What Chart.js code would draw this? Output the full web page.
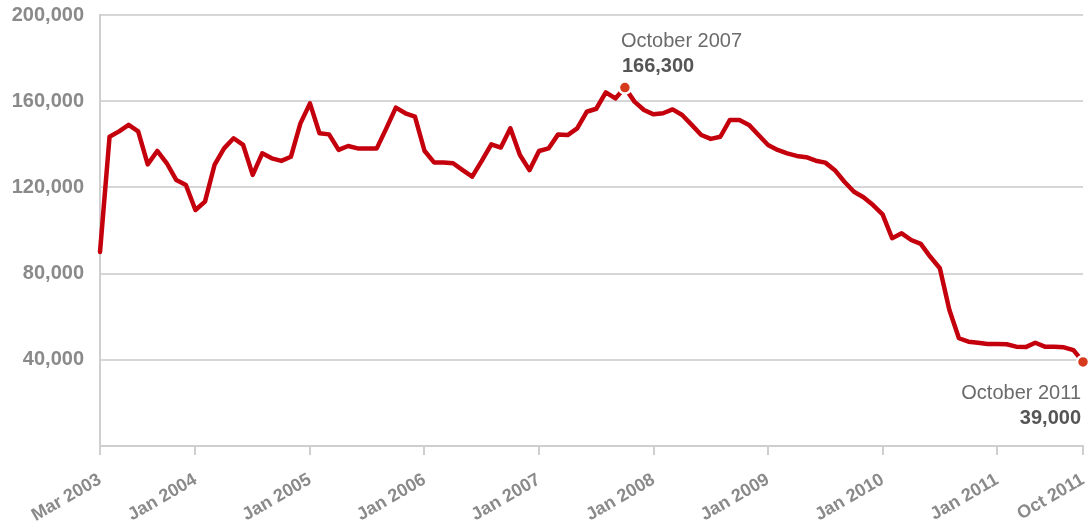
<!DOCTYPE html>
<html>
<head>
<meta charset="utf-8">
<script src="https://cdn.jsdelivr.net/npm/chart.js@4/dist/chart.umd.min.js"></script>
<style>
  body { margin: 0; background: #fff; }
  #wrap { width: 1092px; height: 529px; position: relative; }
</style>
</head>
<body>
<div id="wrap"><canvas id="jobsChart"></canvas></div>
<script>
// monthly values, Mar 2003 .. Oct 2011 (index 0 = Mar 2003)
const values = [
  90000, 143500, 146000, 149000, 146000, 130700, 136900, 131200, 123400, 121100,
  109500, 113400, 130400, 138100, 142800, 139700, 125800, 135800, 133500, 132300,
  134200, 149700, 159000, 145100, 144600, 137400, 139200, 138100, 138100, 138100,
  147400, 157000, 154400, 152800, 137000, 131600, 131600, 131200, 128000, 125000,
  132300, 140000, 138500, 147400, 135000, 128000, 136900, 138100, 144600, 144300,
  147400, 155100, 156500, 164100, 161300, 166300, 159800, 155900, 153900, 154400,
  156200, 153600, 149000, 144300, 142500, 143500, 151300, 151300, 149000, 144300,
  139700, 137400, 135800, 134600, 134000, 132400, 131500, 128000, 122600, 118000,
  115400, 111800, 107500, 96400, 98700, 95600, 93800, 87800, 82500, 63100,
  50000, 48400, 47900, 47300, 47300, 47200, 46100, 45900, 47900, 46100,
  46100, 45800, 44500, 39000
];

// x tick positions (month index) and their labels
const tickIndex = [0, 10, 22, 34, 46, 58, 70, 82, 94, 103];
const tickLabels = ['Mar 2003', 'Jan 2004', 'Jan 2005', 'Jan 2006', 'Jan 2007',
  'Jan 2008', 'Jan 2009', 'Jan 2010', 'Jan 2011', 'Oct 2011'];

// highlighted points
const highlightIndex = [55, 103];
const highlightMonth = ['October 2007', 'October 2011'];

const points = values.map((v, i) => ({ x: i, y: v }));

const calloutPlugin = {
  id: 'callouts',
  afterDatasetsDraw(chart) {
    const ctx = chart.ctx;
    const xs = chart.scales.x, ys = chart.scales.y;
    ctx.save();
    highlightIndex.forEach((idx, k) => {
      const px = xs.getPixelForValue(idx);
      const py = ys.getPixelForValue(values[idx]);
      const val = values[idx].toLocaleString('en-US');
      if (k === 0) {
        ctx.textAlign = 'left';
        ctx.fillStyle = '#6b6b6b';
        ctx.font = '20px "Liberation Sans", Arial, sans-serif';
        ctx.fillText(highlightMonth[k], px - 4, py - 41);
        ctx.fillStyle = '#555';
        ctx.font = 'bold 20px "Liberation Sans", Arial, sans-serif';
        ctx.fillText(val, px - 3, py - 16);
      } else {
        ctx.textAlign = 'right';
        ctx.fillStyle = '#6b6b6b';
        ctx.font = '20px "Liberation Sans", Arial, sans-serif';
        ctx.fillText(highlightMonth[k], px - 2, py + 37);
        ctx.fillStyle = '#555';
        ctx.font = 'bold 20px "Liberation Sans", Arial, sans-serif';
        ctx.fillText(val, px - 2, py + 62);
      }
    });
    ctx.restore();
  }
};

const ctx = document.getElementById('jobsChart').getContext('2d');

const jobsChart = new Chart(ctx, {
  type: 'line',
  data: {
    datasets: [{
      data: points,
      borderColor: '#c5000d',
      borderWidth: 4.5,
      borderJoinStyle: 'round',
      borderCapStyle: 'round',
      tension: 0,
      fill: false,
      clip: false,
      pointRadius: (c) => highlightIndex.includes(c.dataIndex) ? 6 : 0,
      pointBackgroundColor: '#d63a1c',
      pointBorderColor: '#fff',
      pointBorderWidth: 2.5
    }]
  },
  options: {
    responsive: true,
    maintainAspectRatio: false,
    animation: false,
    layout: {
      padding: { top: 15, right: 9, left: 0, bottom: 0 }
    },
    scales: {
      x: {
        type: 'linear',
        min: 0,
        max: 103,
        afterBuildTicks: (scale) => {
          scale.ticks = tickIndex.map(v => ({ value: v }));
        },
        afterFit: (scale) => {
          scale.height = 83;
          scale.paddingLeft = 0;
          scale.paddingRight = 0;
        },
        ticks: {
          autoSkip: false,
          minRotation: 30,
          maxRotation: 30,
          padding: 14,
          color: '#8a8a8a',
          font: { family: '"Liberation Sans", Arial, sans-serif', size: 18, weight: 'bold' },
          callback: (v) => tickLabels[tickIndex.indexOf(v)]
        },
        grid: {
          drawOnChartArea: false,
          drawTicks: true,
          tickLength: 9,
          tickColor: '#cfcfcf',
          lineWidth: 2
        },
        border: { color: '#cfcfcf', width: 2 }
      },
      y: {
        min: 0,
        max: 200000,
        afterFit: (scale) => {
          scale.width = 100;
          scale.paddingTop = 0;
          scale.paddingBottom = 0;
        },
        ticks: {
          stepSize: 40000,
          padding: 16,
          color: '#8a8a8a',
          font: { family: '"Liberation Sans", Arial, sans-serif', size: 20, weight: 'bold' },
          callback: (v) => v === 0 ? '' : v.toLocaleString('en-US')
        },
        grid: {
          color: '#d6d6d6',
          lineWidth: 2,
          drawTicks: false
        },
        border: { color: '#cfcfcf', width: 2 }
      }
    },
    plugins: {
      legend: { display: false },
      tooltip: { enabled: false }
    }
  },
  plugins: [calloutPlugin]
});
</script>
</body>
</html>
